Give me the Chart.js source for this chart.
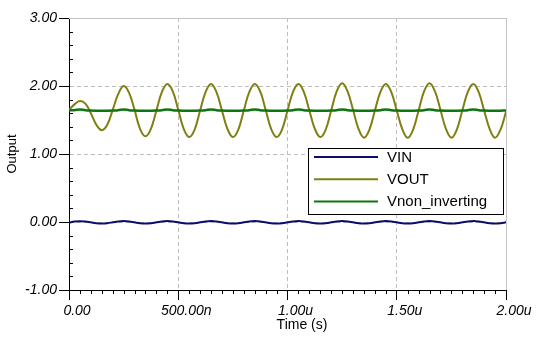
<!DOCTYPE html>
<html>
<head>
<meta charset="utf-8">
<script src="https://cdn.jsdelivr.net/npm/chart.js@4.4.1/dist/chart.umd.min.js"></script>
<style>
  html, body { margin: 0; padding: 0; background: #fff; }
  #wrap { width: 536px; height: 352px; }
</style>
</head>
<body>
<div id="wrap"><canvas id="sim-chart" width="536" height="352"></canvas></div>
<script>
// tempo em ns
const timeNs = [0,25,50,75,100,125,150,175,200,225,250,275,300,325,350,375,400,425,450,475,
  500,525,550,575,600,625,650,675,700,725,750,775,800,825,850,875,900,925,950,975,
  1000,1025,1050,1075,1100,1125,1150,1175,1200,1225,1250,1275,1300,1325,1350,1375,1400,1425,1450,1475,
  1500,1525,1550,1575,1600,1625,1650,1675,1700,1725,1750,1775,1800,1825,1850,1875,1900,1925,1950,1975,2000];

const vin = [-0.008,0.006,0.012,0.008,-0.005,-0.018,-0.022,-0.017,
  -0.005,0.008,0.013,0.008,-0.005,-0.018,-0.023,-0.018,
  -0.005,0.008,0.013,0.008,-0.005,-0.018,-0.023,-0.018,
  -0.005,0.008,0.013,0.008,-0.005,-0.018,-0.023,-0.018,
  -0.005,0.008,0.013,0.008,-0.005,-0.018,-0.023,-0.018,
  -0.005,0.008,0.013,0.008,-0.005,-0.018,-0.023,-0.018,
  -0.005,0.008,0.013,0.008,-0.005,-0.018,-0.023,-0.018,
  -0.005,0.008,0.013,0.008,-0.005,-0.018,-0.023,-0.018,
  -0.005,0.008,0.013,0.008,-0.005,-0.018,-0.023,-0.018,
  -0.005,0.008,0.013,0.008,-0.005,-0.018,-0.023,-0.018,
  -0.005];

const vout = [1.65,1.73,1.78,1.74,1.60,1.43,1.35,1.43,
  1.65,1.88,2.00,1.90,1.65,1.37,1.26,1.37,
  1.64,1.91,2.03,1.92,1.65,1.37,1.25,1.36,
  1.64,1.91,2.03,1.91,1.64,1.37,1.25,1.36,
  1.64,1.91,2.03,1.92,1.65,1.37,1.25,1.36,
  1.64,1.91,2.03,1.91,1.64,1.37,1.25,1.36,
  1.64,1.92,2.04,1.92,1.65,1.37,1.24,1.36,
  1.64,1.91,2.03,1.91,1.64,1.37,1.24,1.36,
  1.64,1.92,2.04,1.92,1.65,1.37,1.24,1.36,
  1.64,1.91,2.03,1.91,1.64,1.37,1.24,1.36,
  1.62];

const vnon = [1.64,1.645,1.655,1.645,1.64,1.637,1.635,1.637,
  1.64,1.645,1.656,1.645,1.64,1.637,1.635,1.637,
  1.64,1.645,1.656,1.645,1.64,1.637,1.635,1.637,
  1.64,1.645,1.656,1.645,1.64,1.637,1.635,1.637,
  1.64,1.645,1.656,1.645,1.64,1.637,1.635,1.637,
  1.64,1.645,1.656,1.645,1.64,1.637,1.635,1.637,
  1.64,1.645,1.656,1.645,1.64,1.637,1.635,1.637,
  1.64,1.645,1.656,1.645,1.64,1.637,1.635,1.637,
  1.64,1.645,1.656,1.645,1.64,1.637,1.635,1.637,
  1.64,1.645,1.656,1.645,1.64,1.637,1.635,1.637,
  1.64];

const seriesLabels = ['VIN', 'VOUT', 'Vnon_inverting'];
const xAxisTitle = 'Time (s)';
const yAxisTitle = 'Output';

function toPoints(values) {
  return timeNs.map((t, i) => ({ x: t, y: values[i] }));
}

function formatTime(v) {
  if (v === 0) return '0.00';
  if (v < 1000) return v.toFixed(2) + 'n';
  return (v / 1000).toFixed(2) + 'u';
}

// moldura, ticks menores, títulos e legenda
const decorPlugin = {
  id: 'decor',
  afterDatasetsDraw(chart) {
    const { ctx, chartArea: a, scales } = chart;
    const xs = scales.x, ys = scales.y;
    ctx.save();

    // moldura cinza em cima e à direita
    ctx.strokeStyle = '#c4c4c4';
    ctx.lineWidth = 1;
    ctx.beginPath();
    ctx.moveTo(a.left, Math.round(a.top) + 0.5);
    ctx.lineTo(a.right, Math.round(a.top) + 0.5);
    ctx.moveTo(Math.round(a.right) + 0.5, a.top);
    ctx.lineTo(Math.round(a.right) + 0.5, a.bottom);
    ctx.stroke();

    // ticks menores
    ctx.strokeStyle = '#000';
    ctx.beginPath();
    for (let i = 0; i <= 20; i++) {
      if (i % 5 === 0) continue;
      const py = Math.round(ys.getPixelForValue(-1 + i * 0.2)) + 0.5;
      ctx.moveTo(a.left, py);
      ctx.lineTo(a.left + 4, py);
    }
    for (let i = 0; i <= 40; i++) {
      if (i % 10 === 0) continue;
      const px = Math.round(xs.getPixelForValue(i * 50)) + 0.5;
      ctx.moveTo(px, a.bottom);
      ctx.lineTo(px, a.bottom + 4);
    }
    ctx.stroke();

    // títulos dos eixos
    ctx.fillStyle = '#000';
    ctx.font = '14px "Liberation Sans", Arial, sans-serif';
    ctx.textAlign = 'center';
    ctx.textBaseline = 'middle';
    ctx.fillText(xAxisTitle, 302, 325);
    ctx.save();
    ctx.translate(12, (a.top + a.bottom) / 2);
    ctx.rotate(-Math.PI / 2);
    ctx.font = '13px "Liberation Sans", Arial, sans-serif';
    ctx.fillText(yAxisTitle, 0, 0);
    ctx.restore();

    // legenda
    const bx = 308.5, by = 148.5, bw = 195, bh = 66;
    ctx.fillStyle = '#fff';
    ctx.fillRect(bx, by, bw, bh);
    ctx.strokeStyle = '#000';
    ctx.strokeRect(bx, by, bw, bh);
    ctx.font = '15px "Liberation Sans", Arial, sans-serif';
    ctx.textAlign = 'left';
    chart.data.datasets.forEach((ds, i) => {
      const ry = by + 8.5 + i * 22.3;
      ctx.strokeStyle = ds.borderColor;
      ctx.lineWidth = 2;
      ctx.beginPath();
      ctx.moveTo(314, ry);
      ctx.lineTo(378, ry);
      ctx.stroke();
      ctx.fillStyle = '#000';
      ctx.fillText(ds.label, 387, ry + 0.5);
    });
    ctx.restore();
  }
};

const tickFont = { family: '"Liberation Sans", Arial, sans-serif', size: 14, style: 'italic' };

new Chart(document.getElementById('sim-chart').getContext('2d'), {
  type: 'line',
  data: {
    datasets: [
      {
        label: seriesLabels[0],
        data: toPoints(vin),
        borderColor: '#0c0c6a',
        borderWidth: 2,
        order: 2
      },
      {
        label: seriesLabels[1],
        data: toPoints(vout),
        borderColor: '#7f7f12',
        borderWidth: 2,
        order: 1
      },
      {
        label: seriesLabels[2],
        data: toPoints(vnon),
        borderColor: '#0e760e',
        borderWidth: 2.5,
        order: 0
      }
    ]
  },
  options: {
    responsive: false,
    animation: false,
    parsing: true,
    elements: {
      point: { radius: 0 },
      line: { tension: 0.4 }
    },
    layout: { padding: { left: 0, top: 18, right: 30, bottom: 0 } },
    plugins: {
      legend: { display: false },
      tooltip: { enabled: false }
    },
    scales: {
      x: {
        type: 'linear',
        min: 0,
        max: 2000,
        afterFit: (scale) => { scale.height = 62; },
        ticks: {
          stepSize: 500,
          color: '#000',
          font: tickFont,
          padding: 3,
          labelOffset: 8,
          maxRotation: 0,
          callback: (v) => formatTime(v)
        },
        grid: {
          color: '#bdbdbd',
          lineWidth: 1,
          drawTicks: true,
          tickLength: 10,
          tickColor: '#000',
          tickBorderDash: []
        },
        border: { display: true, color: '#000', width: 1, dash: [4, 3] }
      },
      y: {
        min: -1,
        max: 3,
        afterFit: (scale) => { scale.width = 69; },
        ticks: {
          stepSize: 1,
          color: '#000',
          font: tickFont,
          padding: 2,
          callback: (v) => v.toFixed(2)
        },
        grid: {
          color: '#bdbdbd',
          lineWidth: 1,
          drawTicks: true,
          tickLength: 10,
          tickColor: '#000',
          tickBorderDash: []
        },
        border: { display: true, color: '#000', width: 1, dash: [4, 3] }
      }
    }
  },
  plugins: [decorPlugin]
});
</script>
</body>
</html>
